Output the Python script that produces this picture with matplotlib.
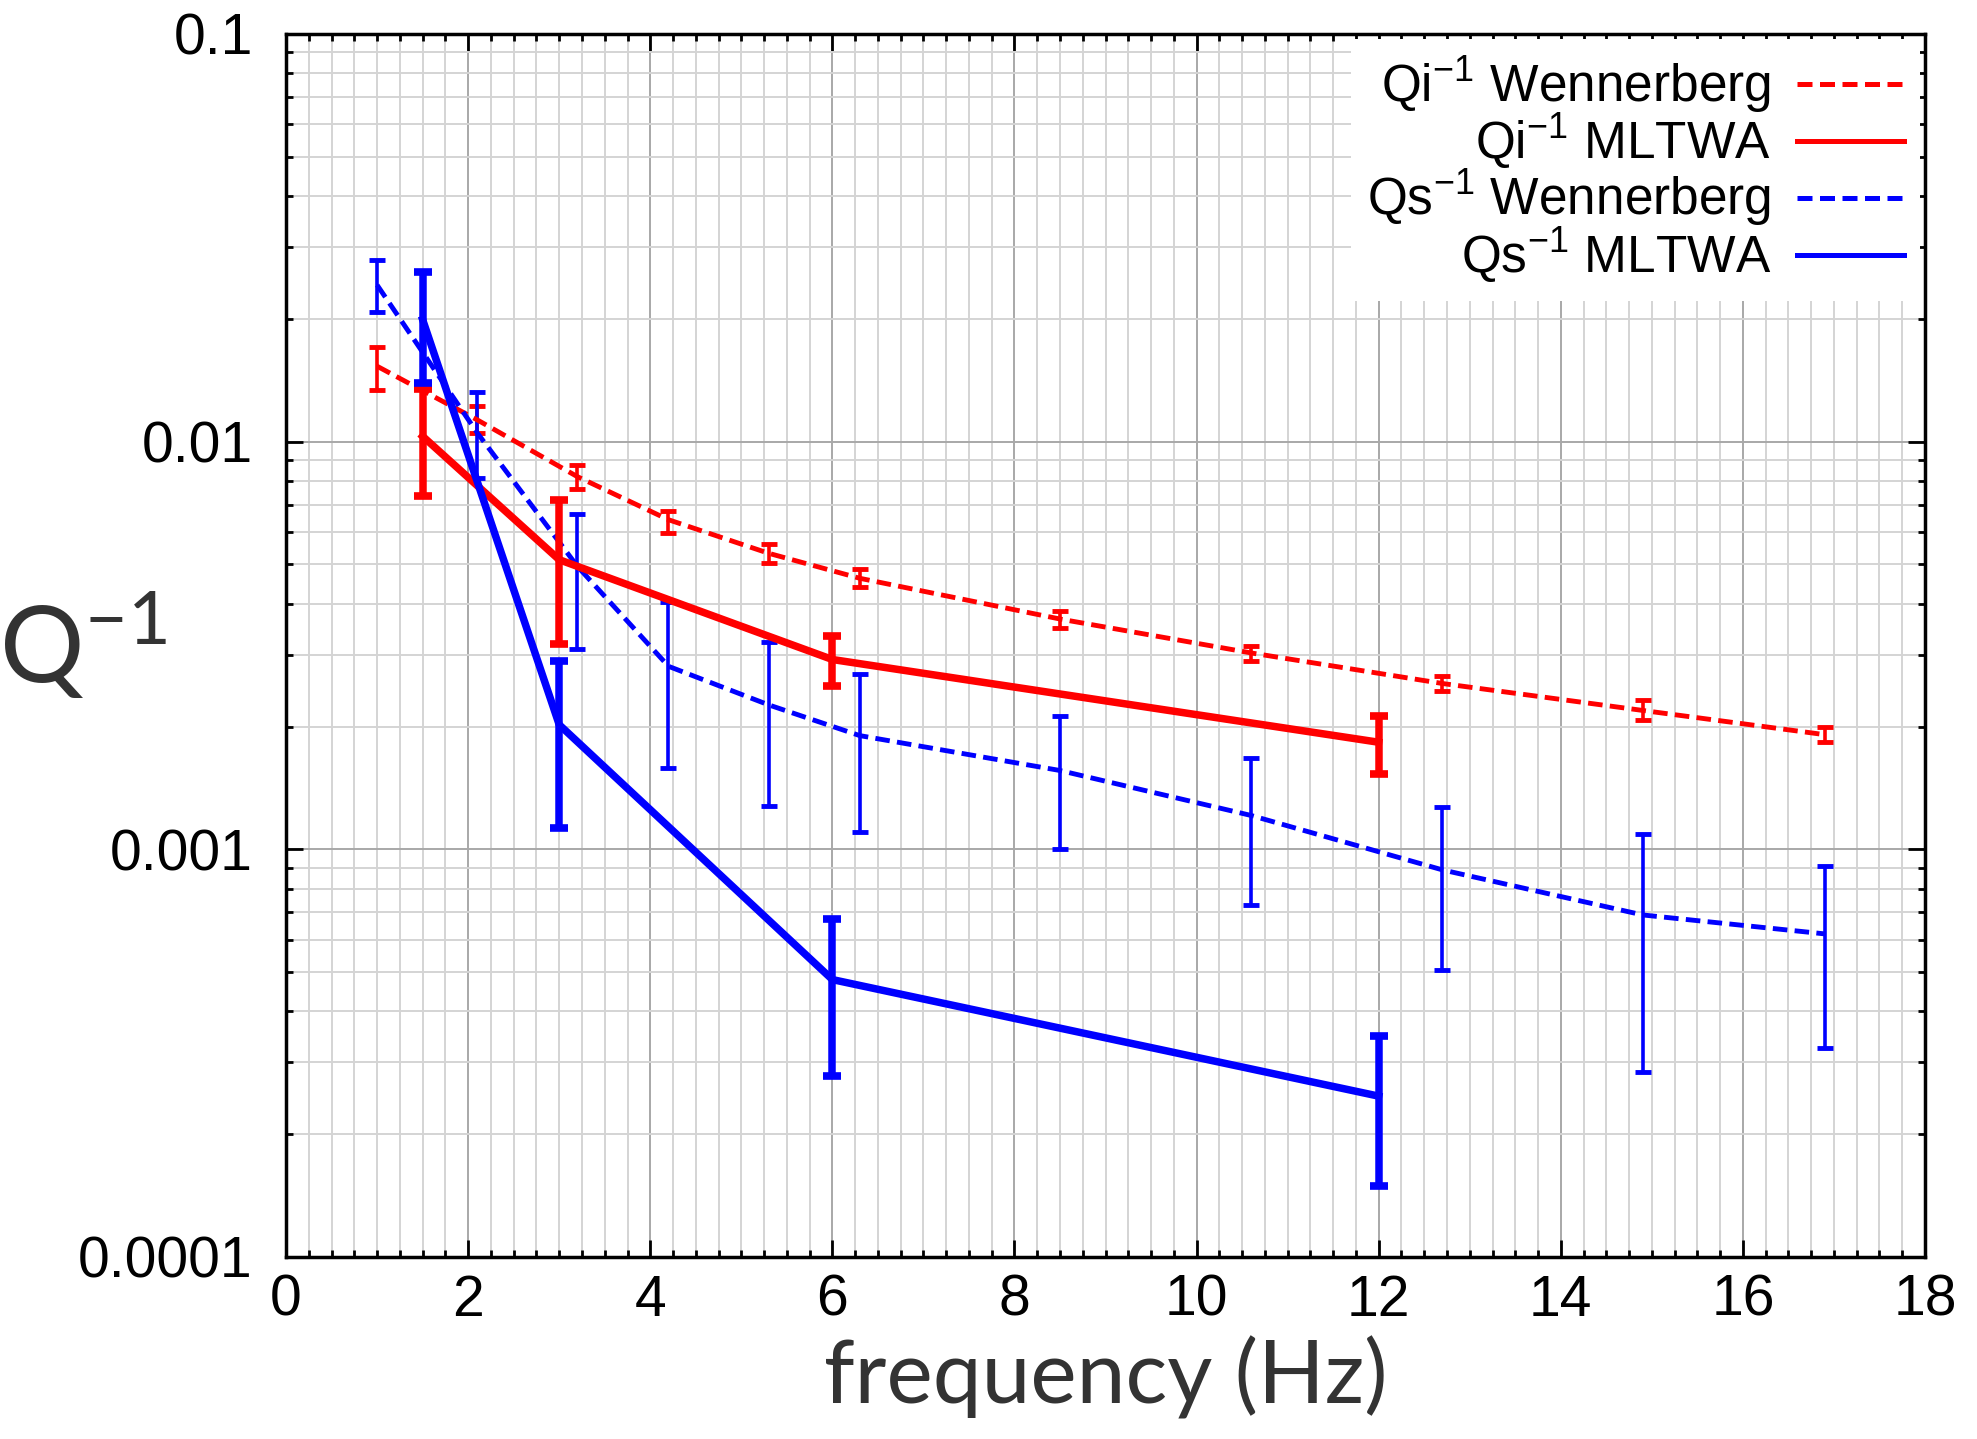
import numpy as np
import matplotlib
matplotlib.use("Agg")
import matplotlib.pyplot as plt
from matplotlib.lines import Line2D
from matplotlib.ticker import MultipleLocator, LogLocator, FuncFormatter, NullFormatter

# Wennerberg: частоты и значения
f_wen = [1.0, 2.1, 3.2, 4.2, 5.3, 6.3, 8.5, 10.6, 12.7, 14.9, 16.9]
qi_wen = [0.0153, 0.0113, 0.0082, 0.00643, 0.00532, 0.00462, 0.00367, 0.00303, 0.00255, 0.00219, 0.00191]
qi_wen_lo = [0.0134, 0.0105, 0.00766, 0.00598, 0.00503, 0.00439, 0.00348, 0.00289, 0.00245, 0.00207, 0.00183]
qi_wen_hi = [0.0171, 0.01225, 0.00877, 0.00677, 0.00561, 0.00486, 0.00383, 0.00316, 0.00266, 0.00232, 0.00199]
qs_wen = [0.0242, 0.0105, 0.00494, 0.00281, 0.00226, 0.0019, 0.00156, 0.00121, 0.00089, 0.00069, 0.00062]
qs_wen_lo = [0.0208, 0.00813, 0.0031, 0.00158, 0.00128, 0.0011, 0.001, 0.00073, 0.000506, 0.000285, 0.000325]
qs_wen_hi = [0.0278, 0.0132, 0.00664, 0.00405, 0.00322, 0.00269, 0.00212, 0.00167, 0.00127, 0.00109, 0.00091]

# MLTWA
f_mltwa = [1.5, 3, 6, 12]
qi_mltwa = [0.0103, 0.00513, 0.00292, 0.00183]
qi_mltwa_lo = [0.00736, 0.00319, 0.00252, 0.00153]
qi_mltwa_hi = [0.01344, 0.0072, 0.00333, 0.00212]
qs_mltwa = [0.0199, 0.00202, 0.000479, 0.000248]
qs_mltwa_lo = [0.0139, 0.001125, 0.000278, 0.000149]
qs_mltwa_hi = [0.0261, 0.0029, 0.000675, 0.000348]

x_ticks = [0, 2, 4, 6, 8, 10, 12, 14, 16, 18]
y_ticks = [0.0001, 0.001, 0.01, 0.1]

RED = "#ff0000"
BLUE = "#0000ff"

plt.rcParams["font.family"] = ["Liberation Sans", "DejaVu Sans"]
plt.rcParams["mathtext.default"] = "regular"


def yerr(v, lo, hi):
    v = np.array(v)
    return [v - np.array(lo), np.array(hi) - v]


fig = plt.figure(figsize=(19.77, 14.39), dpi=100)
ax = fig.add_axes([0.1447, 0.1265, 0.829, 0.85])

dash = (0, (3, 1.5))

# Wennerberg - пунктир с тонкими барами
ax.errorbar(f_wen, qi_wen, yerr=yerr(qi_wen, qi_wen_lo, qi_wen_hi), color=RED,
            lw=3.5, ls=dash, elinewidth=2.6, capsize=6, capthick=3.5, zorder=3)
ax.errorbar(f_wen, qs_wen, yerr=yerr(qs_wen, qs_wen_lo, qs_wen_hi), color=BLUE,
            lw=3.5, ls=dash, elinewidth=2.6, capsize=6, capthick=3.5, zorder=3)

# MLTWA - сплошные толстые
ax.errorbar(f_mltwa, qi_mltwa, yerr=yerr(qi_mltwa, qi_mltwa_lo, qi_mltwa_hi), color=RED,
            lw=5.4, elinewidth=5.4, capsize=6.5, capthick=5.5, zorder=4)
ax.errorbar(f_mltwa, qs_mltwa, yerr=yerr(qs_mltwa, qs_mltwa_lo, qs_mltwa_hi), color=BLUE,
            lw=5.4, elinewidth=5.4, capsize=6.5, capthick=5.5, zorder=5)

ax.set_yscale("log")
ax.set_xlim(0, 18)
ax.set_ylim(0.0001, 0.1)

ax.set_xticks(x_ticks)
ax.xaxis.set_minor_locator(MultipleLocator(0.25))
ax.set_yticks(y_ticks)
ax.yaxis.set_minor_locator(LogLocator(base=10, subs=np.arange(2, 10)))
ax.yaxis.set_minor_formatter(NullFormatter())
ax.yaxis.set_major_formatter(FuncFormatter(lambda v, p: f"{v:g}" if v >= 0.001 else "0.0001"))

ax.tick_params(which="both", direction="in", top=True, right=True, labelsize=41, width=2)
ax.tick_params(which="major", length=12)
ax.tick_params(which="minor", length=5)
ax.tick_params(axis="y", which="major", pad=24)
ax.tick_params(axis="x", which="major", pad=12)

ax.grid(True, which="minor", color="#d4d4d4", lw=1.4, zorder=0)
ax.grid(True, which="major", color="#a8a8a8", lw=1.4, zorder=0)
ax.set_axisbelow(True)
for s in ax.spines.values():
    s.set_linewidth(2.5)

ax.set_xlabel("frequency (Hz)", fontsize=63, color="#333333", family=["Lato", "DejaVu Sans"],
              labelpad=6)
ax.set_ylabel("Q$^{-1}$", fontsize=76, color="#333333", rotation=0,
              family=["Lato", "DejaVu Sans"], ha="center", va="center")
ax.yaxis.set_label_coords(-0.124, 0.5)

handles = [
    Line2D([], [], color=RED, lw=3.6, ls=dash),
    Line2D([], [], color=RED, lw=3.6),
    Line2D([], [], color=BLUE, lw=3.6, ls=dash),
    Line2D([], [], color=BLUE, lw=3.6),
]
labels = ["Qi$^{-1}$ Wennerberg", "Qi$^{-1}$ MLTWA", "Qs$^{-1}$ Wennerberg", "Qs$^{-1}$ MLTWA"]
leg = ax.legend(handles, labels, loc="upper right", fontsize=37, markerfirst=False,
                frameon=True, fancybox=False, edgecolor="none", facecolor="white", framealpha=1,
                handlelength=2.1, labelspacing=-0.08, borderaxespad=0.1, borderpad=0.3,
                handletextpad=0.5)
for t in leg.get_texts():
    t.set_ha("right")
leg._legend_box.align = "right"

fig.savefig("out.png", dpi=100)
